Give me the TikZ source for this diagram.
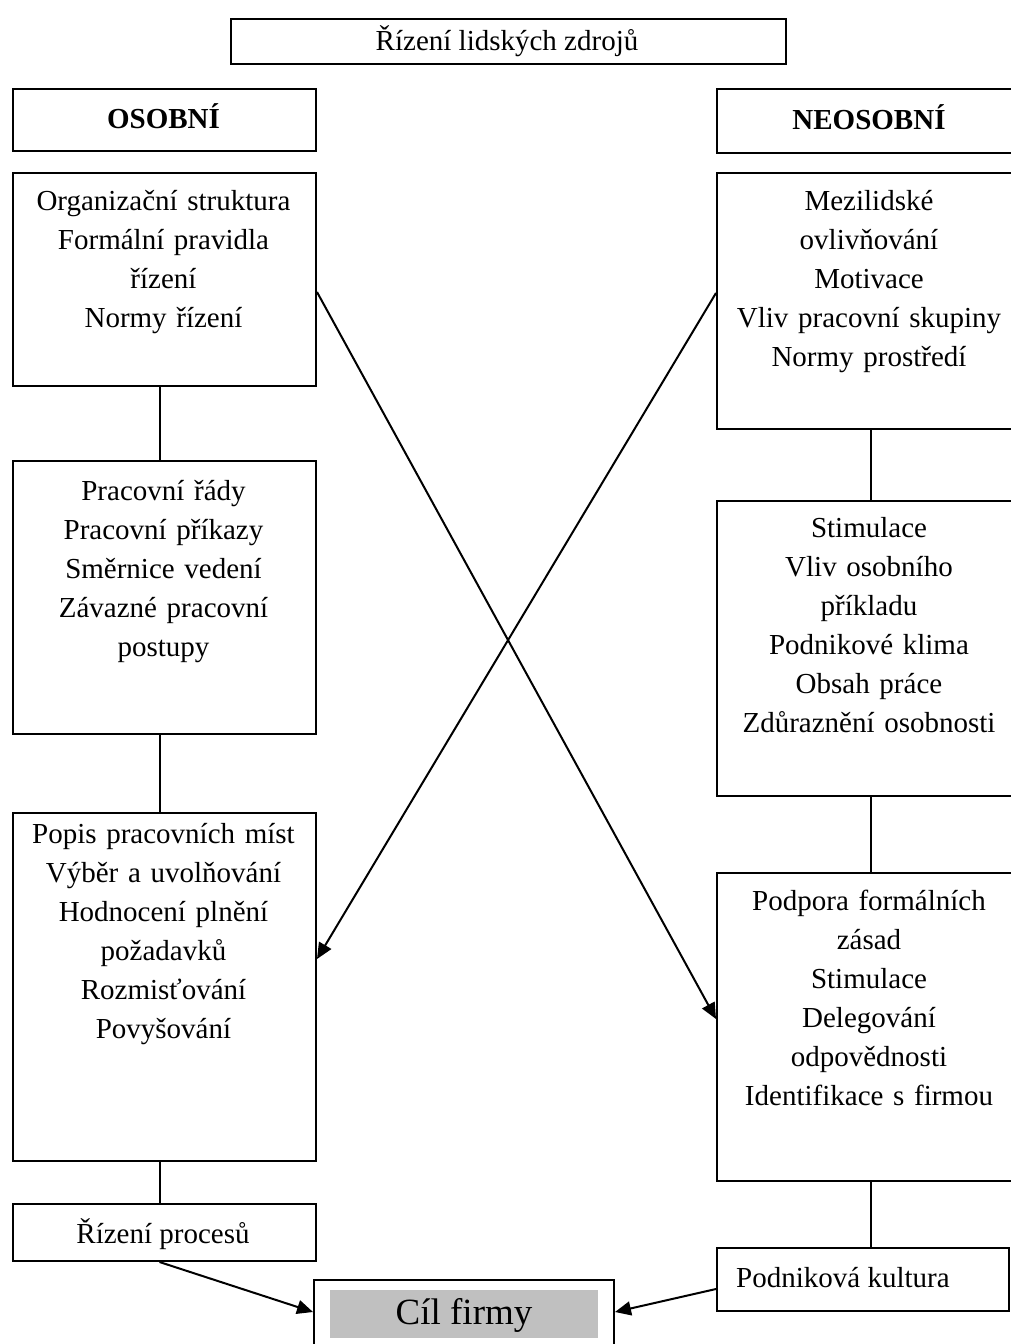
\documentclass[tikz,border=0pt]{standalone}
\usepackage{fontspec}
\setmainfont{Liberation Serif}
\usetikzlibrary{arrows.meta}
\definecolor{goalgrey}{RGB}{192,192,192}
\begin{document}
\begin{tikzpicture}[x=1pt,y=-1pt,
  boxframe/.style={draw, line width=2pt, inner sep=0pt, anchor=north west},
  bodytext/.style={anchor=north, inner sep=0pt, text width=300pt, align=center,
    font=\fontsize{29}{39}\selectfont},
  oneline/.style={anchor=base, inner sep=0pt, font=\fontsize{29}{39}\selectfont},
  joiner/.style={line width=2pt},
  pointer/.style={joiner, -{Triangle[length=16pt,width=14pt]}}
]
\useasboundingbox (0,0) rectangle (1011,1344);
\clip (0,0) rectangle (1011,1344);

% title
\node[boxframe, minimum width=555pt, minimum height=45pt] (hr) at (230,18) {};
\node[oneline] (hrt) at (507,50) {Řízení lidských zdrojů};

% column heads
\node[boxframe, minimum width=303pt, minimum height=62pt] (hl) at (12,88) {};
\node[oneline, font=\fontsize{29}{39}\selectfont\bfseries] (hlt) at (163.5,128) {OSOBNÍ};
\node[boxframe, minimum width=306pt, minimum height=64pt] (hn) at (716,88) {};
\node[oneline, font=\fontsize{29}{39}\selectfont\bfseries] (hnt) at (869,129) {NEOSOBNÍ};

% left column
\node[boxframe, minimum width=303pt, minimum height=213pt] (l1) at (12,172) {};
\node[bodytext] (l1t) at (163.5,182.7) {\strut Organizační struktura\\Formální pravidla\\řízení\\Normy řízení};
\node[boxframe, minimum width=303pt, minimum height=273pt] (l2) at (12,460) {};
\node[bodytext] (l2t) at (163.5,472.7) {\strut Pracovní řády\\Pracovní příkazy\\Směrnice vedení\\Závazné pracovní\\postupy};
\node[boxframe, minimum width=303pt, minimum height=348pt] (l3) at (12,812) {};
\node[bodytext] (l3t) at (163.5,815.7) {\strut Popis pracovních míst\\Výběr a uvolňování\\Hodnocení plnění\\požadavků\\Rozmisťování\\Povyšování};
\node[boxframe, minimum width=303pt, minimum height=57pt] (lp) at (12,1203) {};
\node[oneline] (lpt) at (163,1243) {Řízení procesů};

% right column
\node[boxframe, minimum width=306pt, minimum height=256pt] (r1) at (716,172) {};
\node[bodytext] (r1t) at (869,182.7) {\strut Mezilidské\\ovlivňování\\Motivace\\Vliv pracovní skupiny\\Normy prostředí};
\node[boxframe, minimum width=306pt, minimum height=295pt] (r2) at (716,500) {};
\node[bodytext] (r2t) at (869,509.7) {\strut Stimulace\\Vliv osobního\\příkladu\\Podnikové klima\\Obsah práce\\Zdůraznění osobnosti};
\node[boxframe, minimum width=306pt, minimum height=308pt] (r3) at (716,872) {};
\node[bodytext] (r3t) at (869,882.7) {\strut Podpora formálních\\zásad\\Stimulace\\Delegování\\odpovědnosti\\Identifikace s firmou};
\node[boxframe, minimum width=292pt, minimum height=63pt] (rp) at (716,1247) {};
\node[oneline, anchor=base west] (rpt) at (736,1287) {Podniková kultura};

% goal
\node[boxframe, minimum width=300pt, minimum height=90pt] (goal) at (313,1279) {};
\node[anchor=north west, fill=goalgrey, inner sep=0pt, minimum width=268pt, minimum height=48pt] (goalbg) at (330,1290) {};
\node[oneline, font=\fontsize{37}{44}\selectfont] (goalt) at (464,1324) {Cíl firmy};

% vertical links
\draw[joiner] ([xshift=-5pt]l1.south) -- ([xshift=-5pt]l2.north);
\draw[joiner] ([xshift=-5pt]l2.south) -- ([xshift=-5pt]l3.north);
\draw[joiner] ([xshift=-5pt]l3.south) -- ([xshift=-5pt]lp.north);
\draw[joiner] ([xshift=1pt]r1.south) -- ([xshift=1pt]r2.north);
\draw[joiner] ([xshift=1pt]r2.south) -- ([xshift=1pt]r3.north);
\draw[joiner] ([xshift=1pt]r3.south) -- ([xshift=1pt]r3.south |- rp.north);

% crossing arrows
\draw[pointer] ([yshift=-12.5pt]l1.east) -- ([yshift=8pt]r3.west);
\draw[pointer] ([yshift=8pt]r1.west) -- ([yshift=28pt]l3.east);

% into the goal
\draw[pointer] ([xshift=-5pt]lp.south) -- ([yshift=13pt]goal.west);
\draw[pointer] ([yshift=-9.5pt]rp.west) -- ([yshift=13pt]goal.east);
\end{tikzpicture}
\end{document}
